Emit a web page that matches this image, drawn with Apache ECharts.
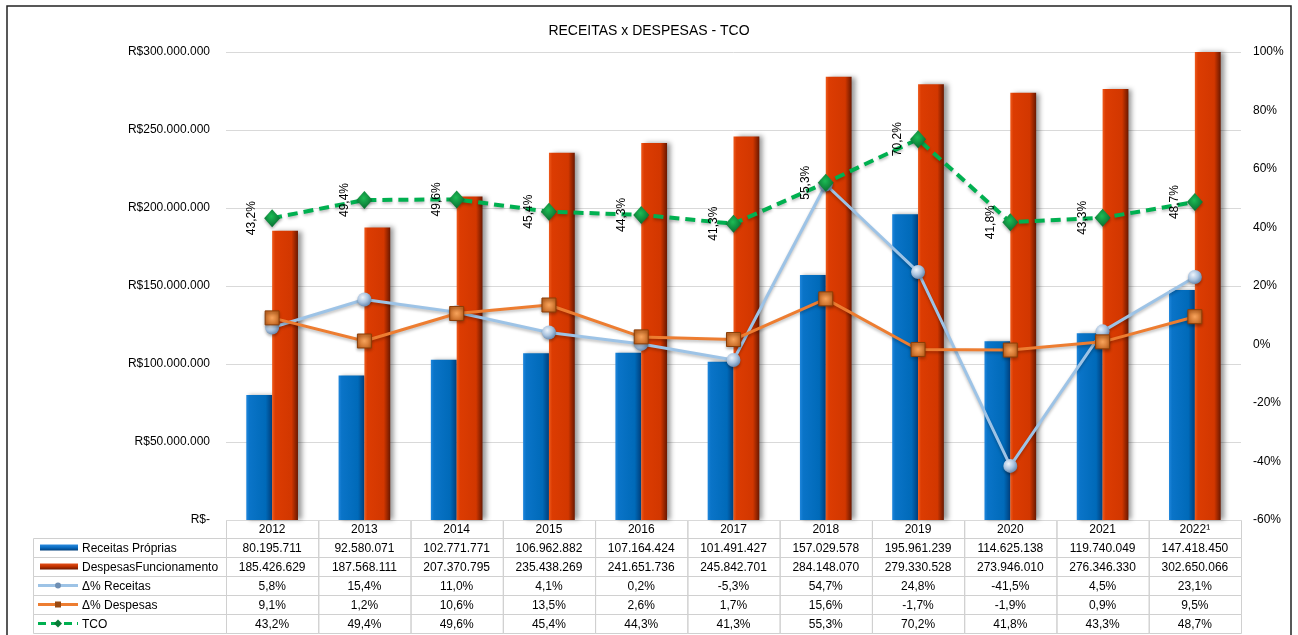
<!DOCTYPE html>
<html>
<head>
<meta charset="utf-8">
<script src="https://cdn.jsdelivr.net/npm/echarts@6/dist/echarts.min.js"></script>
<style>
html,body{margin:0;padding:0;background:#fff;}
#chart{width:1298px;height:635px;}
</style>
</head>
<body>
<div id="chart"></div>
<script>
const years = ['2012','2013','2014','2015','2016','2017','2018','2019','2020','2021','2022\u00b9'];
const receitas = [80195711, 92580071, 102771771, 106962882, 107164424, 101491427, 157029578, 195961239, 114625138, 119740049, 147418450];
const despesas = [185426629, 187568111, 207370795, 235438269, 241651736, 245842701, 284148070, 279330528, 273946010, 276346330, 302650066];
const varReceitas = [5.8, 15.4, 11.0, 4.1, 0.2, -5.3, 54.7, 24.8, -41.5, 4.5, 23.1];
const varDespesas = [9.1, 1.2, 10.6, 13.5, 2.6, 1.7, 15.6, -1.7, -1.9, 0.9, 9.5];
const tco = [43.2, 49.4, 49.6, 45.4, 44.3, 41.3, 55.3, 70.2, 41.8, 43.3, 48.7];
const seriesNames = ['Receitas Próprias', 'DespesasFuncionamento', '\u0394% Receitas', '\u0394% Despesas', 'TCO'];

const FONT = "'Liberation Sans', Arial, sans-serif";
function fmtInt(v){ return String(Math.round(v)).replace(/\B(?=(\d{3})+(?!\d))/g, '.'); }
function fmtPct(v){ return v.toFixed(1).replace('.', ',') + '%'; }

const W = 1298, H = 635;
const gridLeft = 226, gridRight = 1241, gridTop = 52, gridBottom = 520;
const catW = (gridRight - gridLeft) / years.length;

const blueGrad = {type:'linear', x:0, y:0, x2:1, y2:0, colorStops:[
  {offset:0, color:'#1f86dc'},{offset:0.12, color:'#0a74c8'},{offset:0.75, color:'#006ab9'},{offset:1, color:'#003f7c'}]};
const redGrad = {type:'linear', x:0, y:0, x2:1, y2:0, colorStops:[
  {offset:0, color:'#ee5a1c'},{offset:0.12, color:'#dc3c02'},{offset:0.75, color:'#d23700'},{offset:1, color:'#6a1800'}]};
const sphere = {type:'radial', x:0.38, y:0.35, r:0.75, colorStops:[
  {offset:0, color:'#eef4fb'},{offset:0.5, color:'#a9c3df'},{offset:1, color:'#56789f'}]};
const orangeSq = {type:'radial', x:0.5, y:0.5, r:0.7, colorStops:[
  {offset:0, color:'#f7a35c'},{offset:1, color:'#b5540f'}]};
const greenDia = {type:'radial', x:0.45, y:0.4, r:0.7, colorStops:[
  {offset:0, color:'#1dbb55'},{offset:1, color:'#05602a'}]};

// ----- data table graphics -----
const g = [];
const lineC = '#d0d0d0';
const tTop = 520, hdrH = 18, rowH = 19, tLeft = 33;
const rows = [
  years.map(y => y),
  receitas.map(fmtInt),
  despesas.map(fmtInt),
  varReceitas.map(fmtPct),
  varDespesas.map(fmtPct),
  tco.map(fmtPct)
];
function rowY(i){ return i === 0 ? tTop : tTop + hdrH + (i-1)*rowH; }
function rowHt(i){ return i === 0 ? hdrH : rowH; }
for (let r = 0; r < rows.length; r++) {
  const y = rowY(r), h = rowHt(r);
  for (let c = 0; c < years.length; c++) {
    const x = gridLeft + c*catW;
    g.push({type:'rect', shape:{x:x+0.5, y:y+0.5, width:catW, height:h}, style:{fill:null, stroke:lineC, lineWidth:1}, silent:true});
    g.push({type:'text', x:x+catW/2, y:y+h/2+1, style:{text:rows[r][c], font:'12px '+FONT, fill:'#000', align:'center', verticalAlign:'middle'}, silent:true});
  }
  if (r > 0) {
    g.push({type:'rect', shape:{x:tLeft+0.5, y:y+0.5, width:gridLeft-tLeft, height:h}, style:{fill:null, stroke:lineC, lineWidth:1}, silent:true});
    g.push({type:'text', x:82, y:y+h/2+1, style:{text:seriesNames[r-1], font:'12px '+FONT, fill:'#000', align:'left', verticalAlign:'middle'}, silent:true});
    const cy = y + h/2;
    if (r === 1 || r === 2) {
      const grad = {type:'linear', x:0, y:0, x2:0, y2:1, colorStops: r===1 ?
        [{offset:0,color:'#2a8be0'},{offset:0.5,color:'#0a6cc0'},{offset:1,color:'#003f7c'}] :
        [{offset:0,color:'#e4501a'},{offset:0.5,color:'#c03200'},{offset:1,color:'#6a1800'}]};
      g.push({type:'rect', shape:{x:40, y:cy-3, width:38, height:6}, style:{fill:grad}, silent:true});
    } else if (r === 3) {
      g.push({type:'line', shape:{x1:38, y1:cy, x2:78, y2:cy}, style:{stroke:'#9dc3e6', lineWidth:3}, silent:true});
      g.push({type:'circle', shape:{cx:58, cy:cy, r:3}, style:{fill:'#6f8fb3'}, silent:true});
    } else if (r === 4) {
      g.push({type:'line', shape:{x1:38, y1:cy, x2:78, y2:cy}, style:{stroke:'#ed7d31', lineWidth:3}, silent:true});
      g.push({type:'rect', shape:{x:55, y:cy-3, width:6, height:6}, style:{fill:'#9a4a10'}, silent:true});
    } else if (r === 5) {
      g.push({type:'line', shape:{x1:38, y1:cy, x2:78, y2:cy}, style:{stroke:'#00b050', lineWidth:3, lineDash:[8,5]}, silent:true});
      g.push({type:'polygon', shape:{points:[[58,cy-4],[62,cy],[58,cy+4],[54,cy]]}, style:{fill:'#0a7a36'}, silent:true});
    }
  }
}
// outer frame
g.push({type:'rect', shape:{x:7, y:6, width:1284, height:640}, style:{fill:null, stroke:'#222', lineWidth:1.5}, silent:true, z:100});

const chart = echarts.init(document.getElementById('chart'), null, {renderer:'canvas'});
chart.setOption({
  animation:false,
  backgroundColor:'#fff',
  textStyle:{fontFamily:FONT},
  title:{text:'RECEITAS x DESPESAS - TCO', left:'center', top:19,
    textStyle:{fontSize:14, fontWeight:'normal', color:'#000', fontFamily:FONT}},
  grid:{left:gridLeft, right:W-gridRight, top:gridTop, bottom:H-gridBottom, containLabel:false},
  xAxis:{type:'category', data:years, axisLabel:{show:false}, axisTick:{show:false},
    axisLine:{show:false}, splitLine:{show:false}},
  yAxis:[
    {type:'value', min:0, max:300000000, interval:50000000, position:'left',
     axisLine:{show:false}, axisTick:{show:false},
     axisLabel:{margin:16, fontSize:12, color:'#000', fontFamily:FONT,
       formatter:v => v === 0 ? 'R$-' : 'R$' + fmtInt(v)},
     splitLine:{show:true, lineStyle:{color:'#d9d9d9', width:1}}},
    {type:'value', min:-60, max:100, interval:20, position:'right',
     axisLine:{show:false}, axisTick:{show:false},
     axisLabel:{margin:12, fontSize:12, color:'#000', fontFamily:FONT, formatter:'{value}%'},
     splitLine:{show:false}}
  ],
  series:[
    {name:seriesNames[0], type:'bar', data:receitas, yAxisIndex:0, barGap:'0%', barCategoryGap:'44%',
     itemStyle:{color:blueGrad, shadowColor:'rgba(0,0,0,0.35)', shadowBlur:4, shadowOffsetX:3}, z:2},
    {name:seriesNames[1], type:'bar', data:despesas, yAxisIndex:0,
     itemStyle:{color:redGrad, shadowColor:'rgba(0,0,0,0.4)', shadowBlur:5, shadowOffsetX:4}, z:2},
    {name:seriesNames[2], type:'line', data:varReceitas, yAxisIndex:1, symbol:'circle', symbolSize:14,
     lineStyle:{color:'#9dc3e6', width:3, shadowColor:'rgba(0,0,0,0.25)', shadowBlur:3, shadowOffsetY:2},
     itemStyle:{color:sphere, shadowColor:'rgba(0,0,0,0.3)', shadowBlur:3, shadowOffsetY:2}, z:3},
    {name:seriesNames[3], type:'line', data:varDespesas, yAxisIndex:1, symbol:'rect', symbolSize:14,
     lineStyle:{color:'#ed7d31', width:3, shadowColor:'rgba(0,0,0,0.25)', shadowBlur:3, shadowOffsetY:2},
     itemStyle:{color:orangeSq, borderColor:'#8a3e08', borderWidth:1, shadowColor:'rgba(0,0,0,0.3)', shadowBlur:3, shadowOffsetY:2}, z:4},
    {name:seriesNames[4], type:'line', data:tco, yAxisIndex:1, symbol:'diamond', symbolSize:[16,18],
     lineStyle:{color:'#00b050', width:4, type:[10,6], shadowColor:'rgba(0,0,0,0.25)', shadowBlur:3, shadowOffsetY:2},
     itemStyle:{color:greenDia, shadowColor:'rgba(0,0,0,0.3)', shadowBlur:3, shadowOffsetY:2},
     label:{show:true, rotate:90, position:'left', distance:12, align:'center', verticalAlign:'middle',
       fontSize:12, color:'#000', fontFamily:FONT, formatter:p => fmtPct(p.value)}, z:5}
  ],
  graphic:g
});
</script>
</body>
</html>
